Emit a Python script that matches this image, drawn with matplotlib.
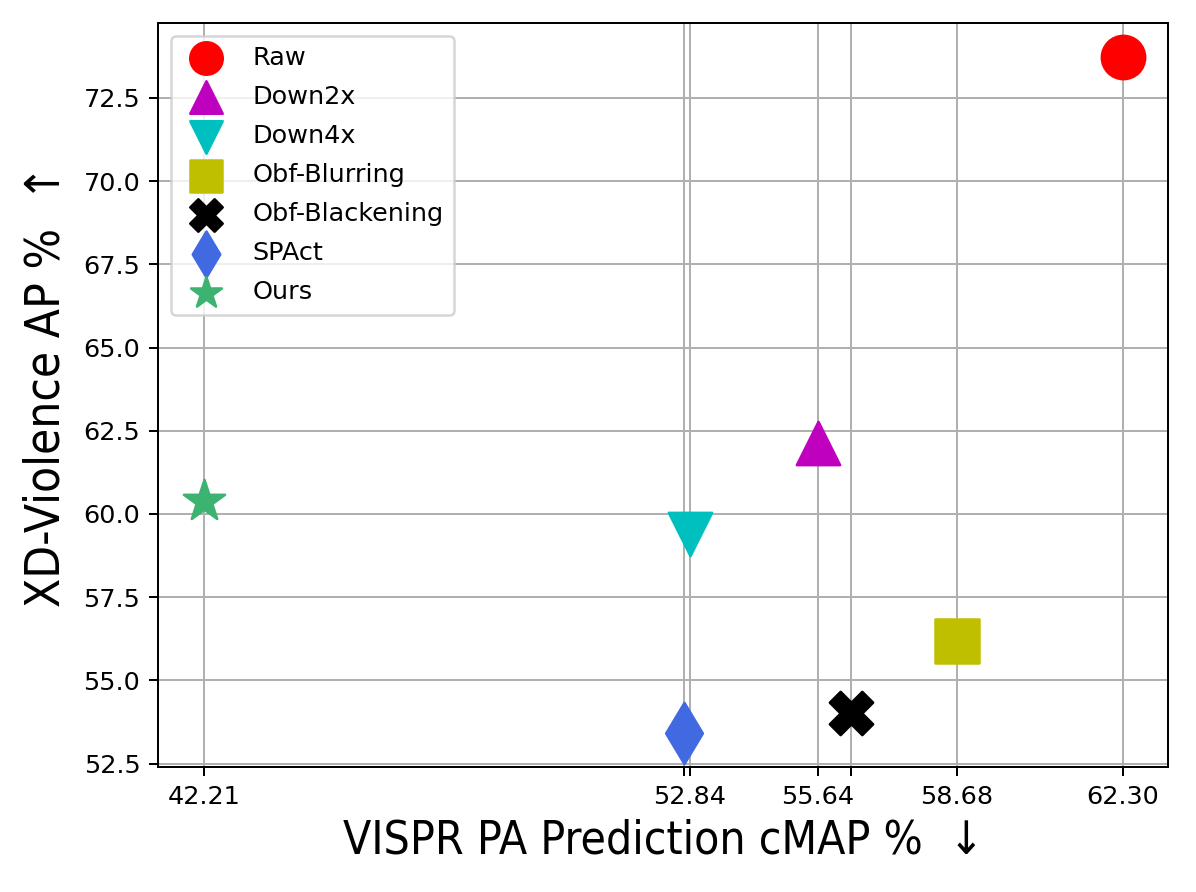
import matplotlib
matplotlib.use("Agg")
import matplotlib.pyplot as plt

plt.rcParams["font.family"] = ["DejaVu Sans"]

methods = ["Raw", "Down2x", "Down4x", "Obf-Blurring", "Obf-Blackening", "SPAct", "Ours"]
privacy_cmap = [62.30, 55.64, 52.84, 58.68, 56.37, 52.72, 42.21]
action_ap = [73.73, 62.13, 59.40, 56.17, 54.03, 53.41, 60.38]
markers = ["o", "^", "v", "s", "X", "d", "*"]
colors = ["r", "m", "c", "y", "k", "royalblue", "mediumseagreen"]

xtick_values = [42.21, 52.72, 52.84, 55.64, 56.37, 58.68, 62.30]
xtick_labels = ["42.21", "", "52.84", "55.64", "", "58.68", "62.30"]

fig = plt.figure(figsize=(1196 / 180, 892 / 180), dpi=180)
ax = fig.add_axes([0.132, 0.140, 0.845, 0.834])

for name, x, y, m, c in zip(methods, privacy_cmap, action_ap, markers, colors):
    ax.scatter(x, y, s=300, marker=m, color=c, label=name, zorder=3)

ax.set_xticks(xtick_values)
ax.set_xticklabels(xtick_labels)
ax.grid(True)
ax.set_axisbelow(True)
ax.tick_params(labelsize=10.2)

ax.set_xlabel("VISPR PA Prediction cMAP %  \u2193", fontsize=18.4, fontstretch="condensed")
ax.set_ylabel("XD-Violence AP %  \u2191", fontsize=19.0, fontstretch="condensed",
              labelpad=5.6, y=0.513)

ax.legend(loc="upper left", fontsize=10.2, markerscale=0.75, labelspacing=0.59)

fig.savefig("out.png", dpi=180)
